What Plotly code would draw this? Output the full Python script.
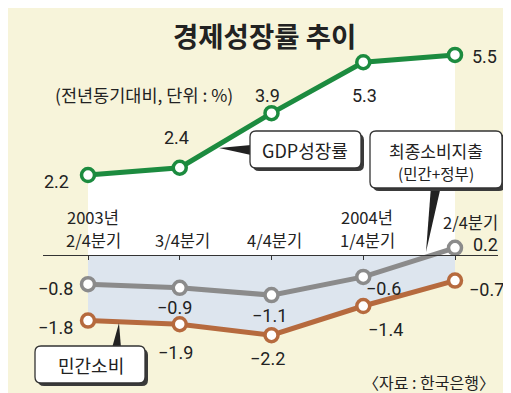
import plotly.graph_objects as go

categories = ["2003년<br>2/4분기", "3/4분기", "4/4분기", "2004년<br>1/4분기", "2/4분기"]
gdp = [2.2, 2.4, 3.9, 5.3, 5.5]
final_cons = [-0.8, -0.9, -1.1, -0.6, 0.2]
private_cons = [-1.8, -1.9, -2.2, -1.4, -0.7]

gdp_lbl = ["2.2", "2.4", "3.9", "5.3", "5.5"]
fin_lbl = ["−0.8", "−0.9", "−1.1", "−0.6", "0.2"]
prv_lbl = ["−1.8", "−1.9", "−2.2", "−1.4", "−0.7"]

W, H = 511, 393
ML, MR = 35, 21
PW = W - ML - MR

GREEN = "#1c8b3f"
GRAY = "#8b8b8b"
ORANGE = "#b66a3e"
BLUE = "#dde5ee"
BEIGE = "#f7f4da"

KFONT = "Noto Sans CJK KR"
NFONT = "Roboto"

YR = [-4.01, 6.79]
XR = [-0.4905, 4.4687]

def px(x):
    return (x - ML) / PW

def py(y):
    return 1 - y / H

def P(x, y):
    return f"{px(x):.5f},{py(y):.5f}"

def rrect(x0, y0, x1, y1, r=6):
    return (f"M {P(x0+r,y0)} L {P(x1-r,y0)} Q {P(x1,y0)} {P(x1,y0+r)} "
            f"L {P(x1,y1-r)} Q {P(x1,y1)} {P(x1-r,y1)} L {P(x0+r,y1)} "
            f"Q {P(x0,y1)} {P(x0,y1-r)} L {P(x0,y0+r)} Q {P(x0,y0)} {P(x0+r,y0)} Z")

def tri(a, b, c):
    return f"M {P(*a)} L {P(*b)} L {P(*c)} Z"

xs = list(range(len(categories)))
fig = go.Figure()

fig.add_trace(go.Scatter(x=xs, y=gdp, mode="none", fill="tozeroy",
                         fillcolor="white", hoverinfo="skip"))
fig.add_trace(go.Scatter(x=xs, y=private_cons, mode="none", fill="tozeroy",
                         fillcolor=BLUE, hoverinfo="skip"))

for vals, col in [(gdp, GREEN), (final_cons, GRAY), (private_cons, ORANGE)]:
    fig.add_trace(go.Scatter(
        x=xs, y=vals, mode="lines+markers",
        line=dict(color=col, width=5),
        marker=dict(size=13, color="white", line=dict(color=col, width=3.5)),
        cliponaxis=False, hoverinfo="skip"))

shapes = []
boxes = [
    ((242, 123, 353, 160), tri((243, 137), (243, 147), (211, 140))),
    ((362, 123, 494, 180), tri((423, 178), (433, 178), (418, 244))),
    ((27, 338, 137, 375), tri((104, 340), (113, 340), (111, 315))),
]
for (x0, y0, x1, y1), wedge in boxes:
    shapes.append(dict(type="path", xref="paper", yref="paper", path=wedge,
                       fillcolor="#222222", line=dict(width=0)))
    shapes.append(dict(type="path", xref="paper", yref="paper",
                       path=rrect(x0 + 3, y0 + 3, x1 + 3, y1 + 3),
                       fillcolor="#3a3a3a", line=dict(width=0)))
    shapes.append(dict(type="path", xref="paper", yref="paper",
                       path=rrect(x0, y0, x1, y1),
                       fillcolor="white", line=dict(color="#333333", width=1.3)))

ann = []
def txt(x, y, s, size, font=KFONT, color="#222222", bold=False):
    if bold:
        s = f"<b>{s}</b>"
    ann.append(dict(x=px(x), y=py(y), xref="paper", yref="paper", text=s,
                    showarrow=False, xanchor="center", yanchor="middle",
                    font=dict(family=font, size=size, color=color)))

txt(256, 27, "경제성장률 추이", 27.5, bold=True)
txt(136, 86, "(전년동기대비, 단위 : %)", 17.5)
txt(297, 142, "GDP성장률", 18)
txt(428, 142, "최종소비지출", 17)
txt(428, 165, "(민간+정부)", 15.5)
txt(83, 357, "민간소비", 18)
txt(421, 374, "〈자료 : 한국은행〉", 16)

# category labels: (x centre, y of last line)
cat_pos = [(85, 232), (174, 232), (266, 232), (359, 232), (462, 214)]
for (cx, cy), c in zip(cat_pos, categories):
    lines = c.split("<br>")
    for k, line in enumerate(reversed(lines)):
        txt(cx, cy - 23.5 * k, line, 16.5)

def dlabels(vals, labels, offs):
    for i, (v, s, (dx, dy)) in enumerate(zip(vals, labels, offs)):
        ann.append(dict(x=i, y=v, xref="x", yref="y", text=s, showarrow=False,
                        xanchor="center", yanchor="middle", xshift=dx, yshift=-dy,
                        font=dict(family=NFONT, size=18, color="#222222")))

dlabels(gdp, gdp_lbl, [(-32, 6), (-3, -30), (-4, -18), (1, 33), (29, 2)])
dlabels(final_cons, fin_lbl, [(-33, 4), (-5, 20), (-2, 20), (20, 12), (30, -3)])
dlabels(private_cons, prv_lbl, [(-33, 7), (-4, 28), (-4, 23), (22, 23), (31, 9)])

zero_pos = (0 - YR[0]) / (YR[1] - YR[0])

fig.update_layout(
    width=W, height=H,
    margin=dict(l=ML, r=MR, t=0, b=0),
    paper_bgcolor=BEIGE, plot_bgcolor=BEIGE,
    showlegend=False,
    shapes=shapes, annotations=ann,
    xaxis=dict(range=XR, showgrid=False, zeroline=False,
               showline=True, linecolor="#333333", linewidth=1.2,
               anchor="free", position=zero_pos,
               tickvals=xs, ticks="outside", ticklen=4, tickcolor="#333333",
               showticklabels=False, fixedrange=True),
    yaxis=dict(range=YR, showgrid=False, zeroline=False, showline=False,
               showticklabels=False, ticks="", fixedrange=True),
)

fig.write_html("out.html")
